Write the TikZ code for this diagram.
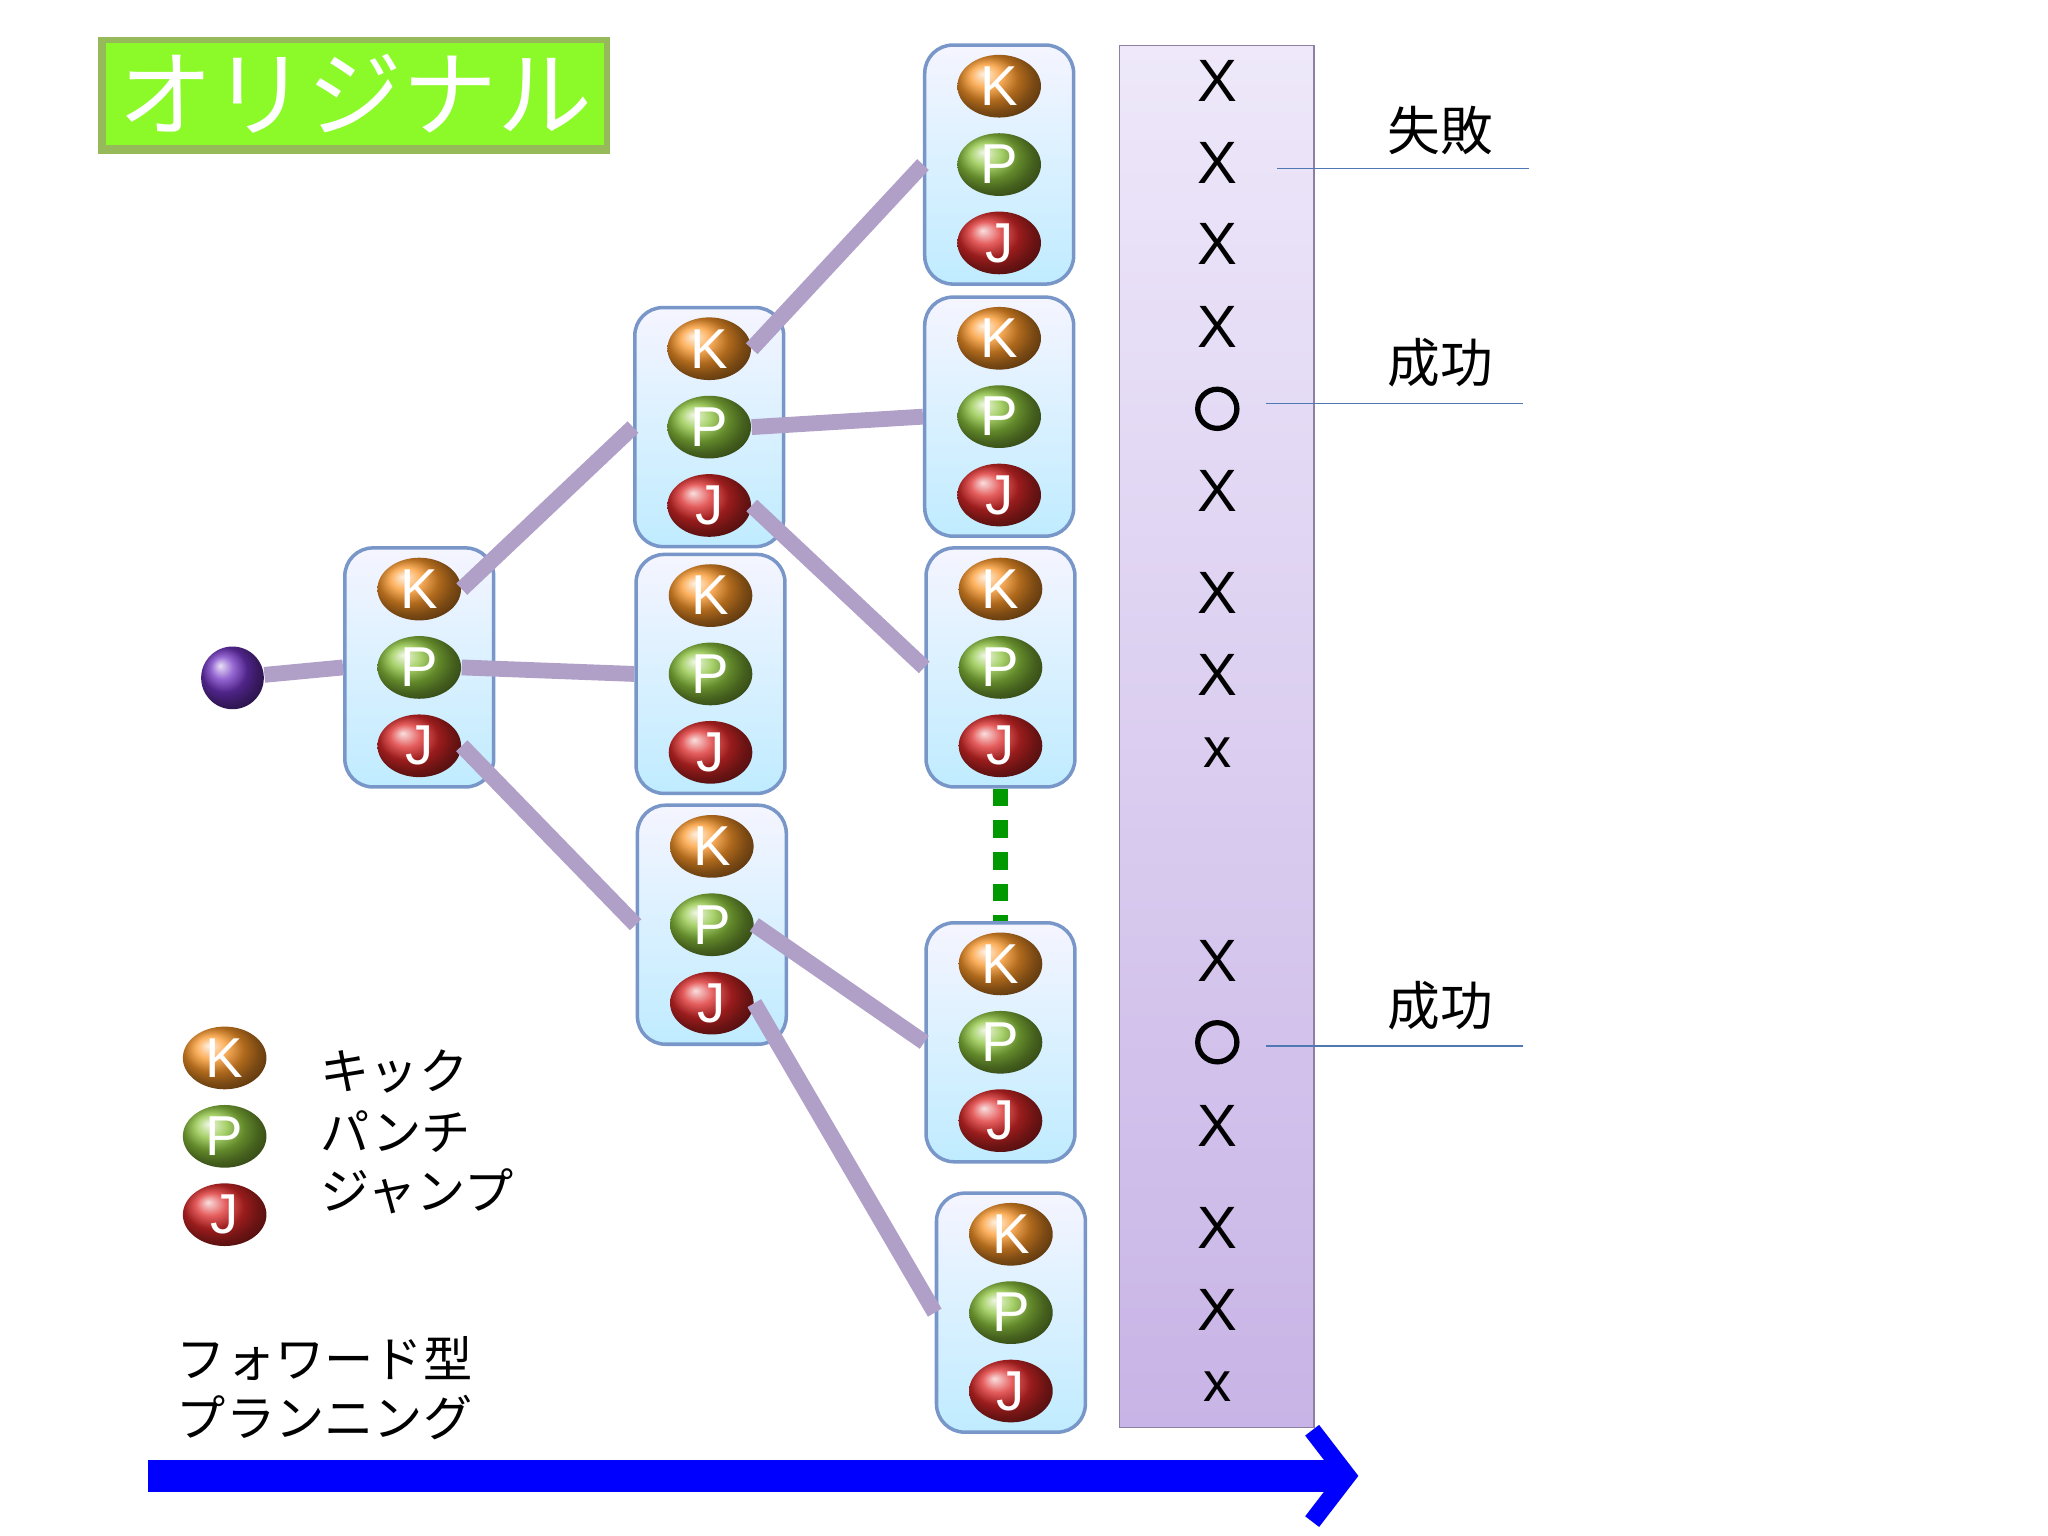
\documentclass[tikz,border=0pt]{standalone}
\usepackage{fontspec}
\setmainfont{Noto Sans CJK JP}
\newfontfamily\lat{Liberation Sans}
\usetikzlibrary{shapes.geometric,arrows.meta}
\definecolor{lav}{RGB}{176,160,200}
\definecolor{boxb}{RGB}{120,150,200}
\definecolor{lineb}{RGB}{80,120,180}
\definecolor{kcol}{RGB}{250,150,40}
\definecolor{pcol}{RGB}{140,195,60}
\definecolor{jcol}{RGB}{220,40,40}
\definecolor{colt}{RGB}{238,232,250}
\definecolor{colb}{RGB}{200,180,230}
\definecolor{tframe}{RGB}{150,185,90}
\definecolor{tfill}{RGB}{140,250,40}
\tikzset{
 pb/.style={draw=boxb,line width=1pt,rounded corners=8pt,minimum width=114*0.01306cm,minimum height=183*0.01306cm,top color=blue!4,bottom color=blue!30!cyan!25},
 ball/.style={ellipse,minimum width=64*0.01306cm,minimum height=48*0.01306cm,shading=ball,text=white,font=\lat\fontsize{16}{16}\selectfont,inner sep=0pt},
 con/.style={lav,line width=4.5pt},
 mk/.style={font=\lat\fontsize{17}{17}\selectfont},
 lbl/.style={font=\fontsize{15}{15}\selectfont},
 lg/.style={font=\fontsize{14}{14}\selectfont},
}
\newcommand{\pbox}[3]{%
 \node[pb] (#1) at (#2,#3) {};
 \node[ball,ball color=kcol] (#1K) at (#2,#3-60) {K};
 \node[ball,ball color=pcol] (#1P) at (#2,#3) {P};
 \node[ball,ball color=jcol] (#1J) at (#2,#3+60) {J};}
\begin{document}
\begin{tikzpicture}[x=0.01306cm,y=-0.01306cm]
\useasboundingbox (0,0) rectangle (1568,1176);
% title
\node[fill=tframe,minimum width=392*0.01306cm,minimum height=90*0.01306cm] (tb) at (271,73) {};
\node[fill=tfill,minimum width=375*0.01306cm,minimum height=75*0.01306cm,text=white,font=\fontsize{27}{27}\selectfont] (t) at (272,72) {オリジナル};
% result column
\node[draw=lav!80!black,top color=colt,bottom color=colb,minimum width=149*0.01306cm,minimum height=1058*0.01306cm] (col) at (931.5,564) {};
% boxes
\pbox{a}{321}{511}
\pbox{ba}{543}{327}
\pbox{bb}{544}{516}
\pbox{bc}{545}{708}
\pbox{ca}{765}{126}
\pbox{cb}{765}{319}
\pbox{cc}{766}{511}
\pbox{cd}{766}{798}
\pbox{ce}{774}{1005}
% root
\node[circle,minimum size=48*0.01306cm,shading=ball,ball color=violet!60!blue!80] (r) at (178,519) {};
% connectors
\draw[con] (r) -- (a.west);
\draw[con] (aK.east) -- (ba.west);
\draw[con] (aP.east) -- (bb.west);
\draw[con] (aJ.east) -- (bc.west);
\draw[con] (baK.east) -- (ca.west);
\draw[con] (baP.east) -- (cb.west);
\draw[con] (baJ.east) -- (cc.west);
\draw[con] (bcP.east) -- (cd.west);
\draw[con] (bcJ.east) -- (ce.west);
\draw[green!60!black,line width=4pt,dash pattern=on 5pt off 4pt] (cc.south) -- (cd.north);
% marks
\foreach \y/\m in {62/X,125/X,187/X,250/X,376/X,454/X,517/X,736/X,862/X,940/X,1003/X}
  \node[mk] (m\y) at (932,\y) {\m};
\foreach \y in {579,1065} \node[mk,font=\lat\fontsize{16}{16}\selectfont] (s\y) at (932,\y-3) {x};
\foreach \y in {313,798} \node[draw,circle,line width=1.5pt,minimum size=30*0.01306cm] (o\y) at (932,\y) {};
% labels
\coordinate (l1a) at (978,129); \coordinate (l1b) at (1171,129);
\draw[lineb] (l1a) -- (l1b);
\node[lbl] (f1) at (1103,100) {失敗};
\coordinate (l2a) at (969,309); \coordinate (l2b) at (1166,309);
\draw[lineb] (l2a) -- (l2b);
\node[lbl] (f2) at (1103,278) {成功};
\coordinate (l3a) at (969,801); \coordinate (l3b) at (1166,801);
\draw[lineb] (l3a) -- (l3b);
\node[lbl] (f3) at (1103,770) {成功};
% legend
\node[ball,ball color=kcol] (gK) at (172,810) {K};
\node[ball,ball color=pcol] (gP) at (172,870) {P};
\node[ball,ball color=jcol] (gJ) at (172,930) {J};
\node[lg,anchor=west] (tK) at (236,820) {キック};
\node[lg,anchor=west] (tP) at (236,866) {パンチ};
\node[lg,anchor=west] (tJ) at (236,912) {ジャンプ};
\node[lg,anchor=west] (fw1) at (126,1040) {フォワード型};
\node[lg,anchor=west] (fw2) at (126,1085) {プランニング};
% arrow
\coordinate (aa) at (113,1130); \coordinate (ab) at (1040,1130);
\draw[blue,line width=9pt,-{Straight Barb[length=10pt,width=26pt,line width=5pt]}] (aa) -- (ab);
\end{tikzpicture}
\end{document}
